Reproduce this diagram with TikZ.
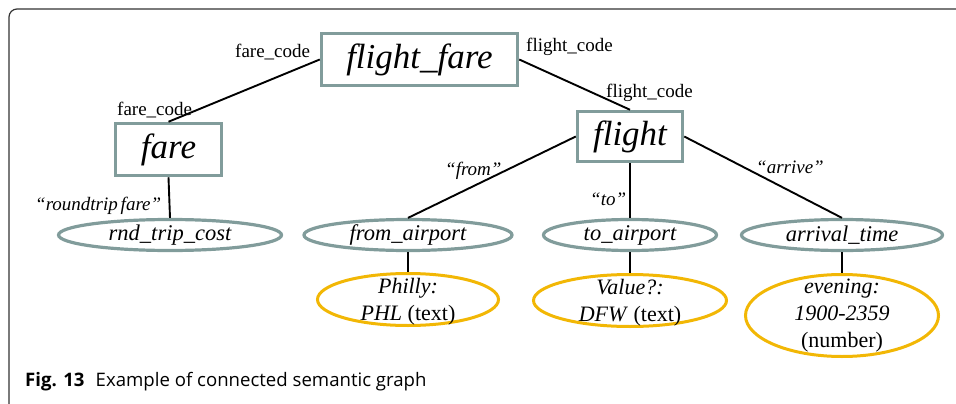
\documentclass[tikz,border=0pt]{standalone}
\usepackage{fontspec}
\setmainfont{Liberation Serif}[
  UprightFont={Liberation Serif},
  ItalicFont={Liberation Serif Italic},
  BoldFont={Liberation Serif Bold},
  BoldItalicFont={Liberation Serif Bold Italic}]
\newfontfamily\capfont{Open Sans}
\usetikzlibrary{shapes.geometric}
\definecolor{boxgray}{HTML}{819C9B}
\definecolor{valgold}{HTML}{F2B705}
\definecolor{framegray}{HTML}{333333}
\tikzset{
  entity/.style={draw=boxgray, line width=3.5pt, rectangle, inner sep=0pt,
    font=\fontsize{35}{38}\selectfont\itshape},
  attrib/.style={draw=boxgray, line width=3.2pt, ellipse, inner sep=0pt,
    minimum height=31pt},
  valnode/.style={draw=valgold, line width=3pt, ellipse, inner sep=0pt},
  link/.style={line width=1.9pt, black},
  rolelabel/.style={font=\fontsize{19}{22}\selectfont, inner sep=0pt, anchor=base west},
  attrtext/.style={font=\fontsize{22.5}{26}\selectfont\itshape},
  valtext/.style={font=\fontsize{22}{27}\selectfont, align=center}
}
\begin{document}
\begin{tikzpicture}[x=1pt, y=-1pt]
\useasboundingbox (0,0) rectangle (956,404);
% frame around the figure (left and top edges)
\draw[framegray, line width=1.2pt, rounded corners=8pt] (9,404) -- (9,9) -- (956,9);

% entity boxes
\node[entity, minimum width=196pt, minimum height=52pt] (ff) at (419.5,59.5) {flight\_fare};
\node[entity, minimum width=106pt, minimum height=52pt] (fare) at (168.5,149.5) {fare};
\node[entity, minimum width=105pt, minimum height=50pt] (fl) at (630,136.5) {flight};

% attribute ellipses
\node[attrib, minimum width=223pt, label={[attrtext]center:rnd\_trip\_cost}] (rtc) at (170,235) {};
\node[attrib, minimum width=208pt, label={[attrtext]center:from\_airport}] (fa) at (408,235) {};
\node[attrib, minimum width=173pt, label={[attrtext]center:to\_airport}] (ta) at (630,235) {};
\node[attrib, minimum width=201pt, label={[attrtext]center:arrival\_time}] (at) at (842,235) {};

% value ellipses
\node[valnode, minimum width=181pt, minimum height=52pt,
  label={[valtext, yshift=-2pt]center:\textit{Philly:}\\\textit{PHL} (text)}] (phl) at (408,299.5) {};
\node[valnode, minimum width=193pt, minimum height=52pt,
  label={[valtext, yshift=-2pt]center:\textit{Value?:}\\\textit{DFW} (text)}] (dfw) at (630,300.5) {};
\node[valnode, minimum width=193pt, minimum height=82pt,
  label={[valtext]center:\textit{evening:}\\\textit{1900-2359}\\(number)}] (eve) at (842,315.5) {};

% connectors
\draw[link] (ff.west) -- (fare.north);
\draw[link] (ff.east) -- (fl.north);
\draw[link] (fare.south) -- (rtc.north);
\draw[link] (fl.west) -- (fa.north);
\draw[link] (fl.south) -- (ta.north);
\draw[link] (fl.east) -- (at.north);
\draw[link] (fa.south) -- (phl.north);
\draw[link] (ta.south) -- (dfw.north);
\draw[link] (at.south) -- (eve.north);

% role labels
\node[rolelabel] (l1) at (235,58) {fare\_code};
\node[rolelabel] (l2) at (117,115) {fare\_code};
\node[rolelabel] (l3) at (526,52) {flight\_code};
\node[rolelabel] (l4) at (606,97) {flight\_code};
\node[rolelabel, font=\fontsize{19}{22}\selectfont\itshape] (l5) at (445,175) {``from''};
\node[rolelabel, font=\fontsize{19}{22}\selectfont\itshape] (l6) at (590,205) {``to''};
\node[rolelabel, font=\fontsize{19}{22}\selectfont\itshape] (l7) at (756,173) {``arrive''};
\node[rolelabel, font=\fontsize{19}{22}\selectfont\itshape] (l8) at (35,210) {``roundtrip\hspace{0.15em}fare''};

% caption
\node[anchor=base west, inner sep=0pt, font=\capfont\fontsize{18.6}{22}\selectfont] (cap) at (25,386)
  {\textbf{Fig. 13}\hspace{0.6em}Example of connected semantic graph};
\end{tikzpicture}
\end{document}
